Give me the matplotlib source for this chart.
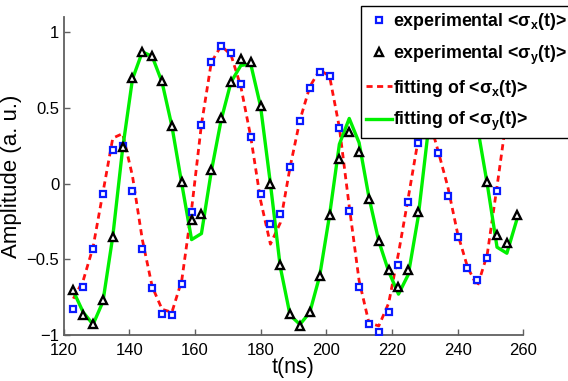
import matplotlib
matplotlib.use("Agg")
import matplotlib.pyplot as plt

plt.rcParams['font.family'] = ['Liberation Sans', 'DejaVu Sans']

# sampling times (ns)
t_ns = [123, 126, 129, 132, 135, 138, 141, 144, 147, 150, 153, 156, 159, 162,
        165, 168, 171, 174, 177, 180, 183, 186, 189, 192, 195, 198, 201, 204,
        207, 210, 213, 216, 219, 222, 225, 228, 231, 234, 237, 240, 243, 246,
        249, 252, 255, 258]

# measured <sigma_x(t)>
exp_sx = [-0.83, -0.68, -0.43, -0.07, 0.22, 0.25, -0.05, -0.43, -0.69, -0.86,
          -0.87, -0.66, -0.19, 0.39, 0.80, 0.91, 0.86, 0.66, 0.31, -0.07,
          -0.27, -0.20, 0.11, 0.41, 0.63, 0.74, 0.71, 0.37, -0.18, -0.68,
          -0.93, -0.98, -0.85, -0.54, -0.12, 0.27, 0.45, 0.20, -0.08, -0.35,
          -0.56, -0.64, -0.49, -0.05, 0.42, 0.78]

# measured <sigma_y(t)>
exp_sy = [-0.70, -0.87, -0.93, -0.77, -0.35, 0.24, 0.70, 0.87, 0.84, 0.68,
          0.38, 0.01, -0.24, -0.20, 0.09, 0.43, 0.67, 0.82, 0.80, 0.51,
          0.00, -0.54, -0.86, -0.94, -0.85, -0.61, -0.21, 0.16, 0.34, 0.21,
          -0.10, -0.38, -0.57, -0.68, -0.57, -0.19, 0.33, 0.72, 0.88, 0.85,
          0.66, 0.40, 0.01, -0.34, -0.39, -0.21]

# fitted curves on the same time grid
fit_sx = [-0.76, -0.64, -0.42, -0.06, 0.30, 0.33, 0.05, -0.37, -0.68, -0.83,
          -0.85, -0.64, -0.17, 0.39, 0.80, 0.91, 0.85, 0.64, 0.31, -0.11,
          -0.40, -0.26, 0.11, 0.42, 0.64, 0.75, 0.71, 0.37, -0.15, -0.64,
          -0.92, -0.94, -0.79, -0.46, -0.09, 0.29, 0.45, 0.22, -0.02, -0.33,
          -0.55, -0.68, -0.47, -0.02, 0.45, 0.78]

fit_sy = [-0.71, -0.85, -0.93, -0.78, -0.35, 0.23, 0.69, 0.87, 0.84, 0.67,
          0.38, 0.00, -0.37, -0.33, 0.08, 0.42, 0.67, 0.78, 0.79, 0.51,
          0.00, -0.55, -0.87, -0.93, -0.85, -0.61, -0.21, 0.26, 0.43, 0.27,
          -0.09, -0.38, -0.58, -0.73, -0.60, -0.22, 0.34, 0.72, 0.88, 0.85,
          0.66, 0.38, 0.00, -0.42, -0.46, -0.24]

xticks = [120, 140, 160, 180, 200, 220, 240, 260]
yticks = [-1, -0.5, 0, 0.5, 1]
yticklabels = ['\u22121', '\u22120.5', '0', '0.5', '1']

fig = plt.figure(figsize=(5.68, 3.81), dpi=100)
ax = fig.add_axes([0.1118, 0.1207, 0.8095, 0.8347])

l_fx, = ax.plot(t_ns, fit_sx, color='#ff1010', lw=2.0, dashes=(2.2, 1.6), zorder=2)
l_fy, = ax.plot(t_ns, fit_sy, color='#00f000', lw=2.4, zorder=2)
m_x, = ax.plot(t_ns, exp_sx, ls='none', marker='s', ms=4.2, mfc='white',
               mec='#0a1aff', mew=1.6, zorder=3)
m_y, = ax.plot(t_ns, exp_sy, ls='none', marker='^', ms=5.8, mfc='white',
               mec='black', mew=1.7, zorder=3)

ax.set_xlim(120, 260)
ax.set_ylim(-1, 1.1)
ax.set_xticks(xticks)
ax.set_yticks(yticks)
ax.set_yticklabels(yticklabels)
ax.tick_params(direction='in', length=4, width=1, color='#606060',
               labelsize=12, pad=3)
ax.tick_params(axis='x', pad=6)
for side in ['top', 'right']:
    ax.spines[side].set_visible(False)
for side in ['left', 'bottom']:
    ax.spines[side].set_color('#606060')
    ax.spines[side].set_linewidth(1.3)

ax.set_xlabel('t(ns)', fontsize=15.5, labelpad=-1)
ax.set_ylabel('Amplitude (a. u.)', fontsize=16, labelpad=3)

labels = [r'experimental <σ$_\mathregular{x}$(t)>',
          r'experimental <σ$_\mathregular{y}$(t)>',
          r'fitting of <σ$_\mathregular{x}$(t)>',
          r'fitting of <σ$_\mathregular{y}$(t)>']
leg = fig.legend([m_x, m_y, l_fx, l_fy], labels, loc='upper left',
                 bbox_to_anchor=(360.5 / 568, 1 - 6 / 381), numpoints=1,
                 prop={'weight': 'bold', 'size': 12.8}, fancybox=False,
                 framealpha=1, edgecolor='black', borderpad=0.3,
                 handlelength=1.45, handletextpad=0.1, labelspacing=0.62,
                 borderaxespad=0)
leg.get_frame().set_linewidth(1.0)
leg.set_zorder(5)

fig.savefig('out.png', dpi=100)
